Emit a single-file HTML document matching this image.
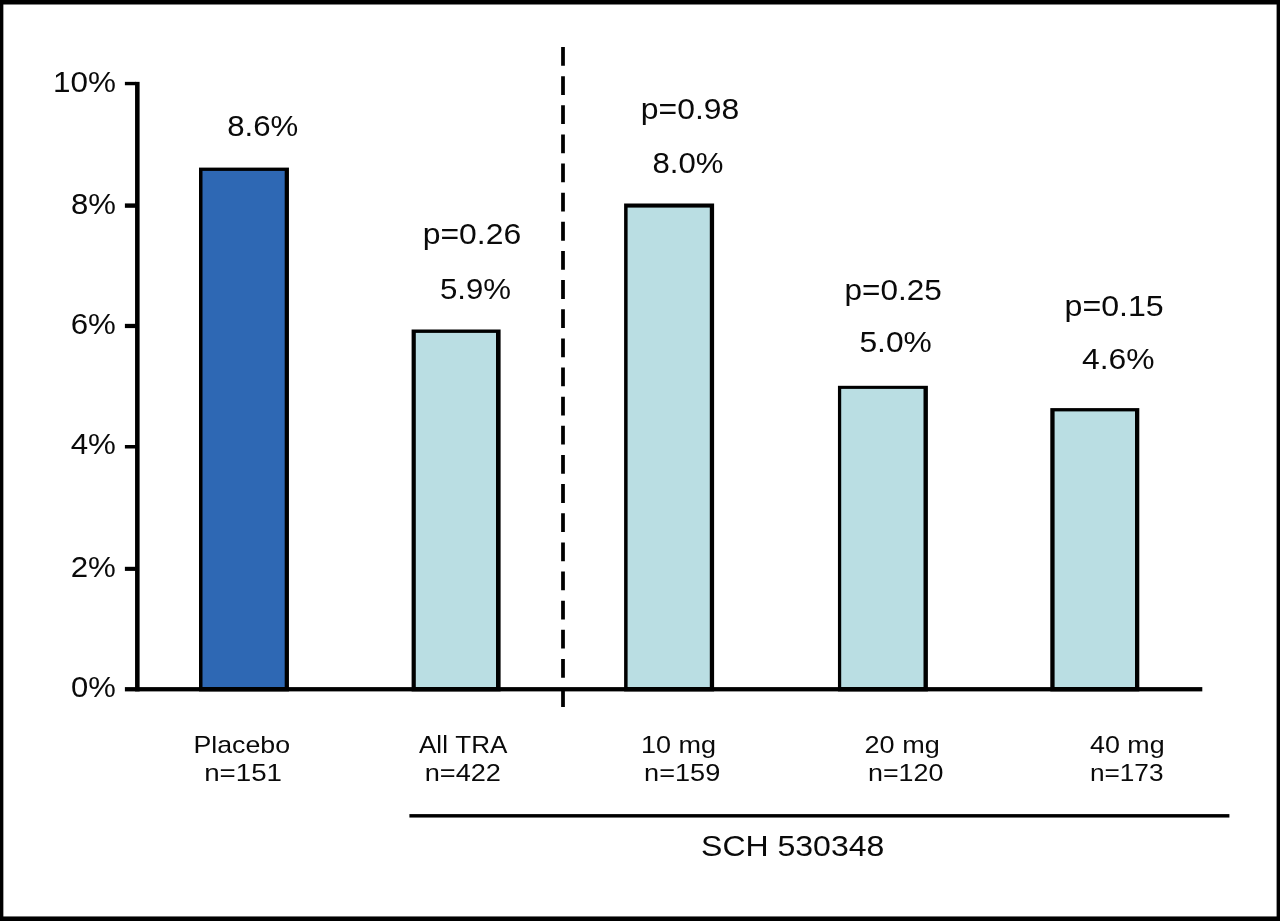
<!DOCTYPE html>
<html lang="en"><head><meta charset="utf-8"><title>Chart</title>
<style>
html,body{margin:0;padding:0;background:#fff;}
body{width:1280px;height:921px;overflow:hidden;}
svg{display:block;}
text{font-kerning:none;font-family:"Liberation Sans",Arial,Helvetica,sans-serif;fill:#0a0a0a;}
</style></head><body>
<svg width="1280" height="921" viewBox="0 0 1280 921">
<rect x="0" y="0" width="1280" height="921" fill="#fff"/>
<g id="bars">
<rect x="199.0" y="167.6" width="89.95" height="523.80" fill="#000"/><rect x="202.5" y="170.9" width="82.20" height="516.20" fill="#2e68b4"/>
<rect x="411.6" y="329.5" width="89.00" height="361.90" fill="#000"/><rect x="415.8" y="332.9" width="80.20" height="354.20" fill="#badee3"/>
<rect x="624.1" y="203.5" width="90.00" height="487.90" fill="#000"/><rect x="627.6" y="207.6" width="82.20" height="479.50" fill="#badee3"/>
<rect x="837.95" y="385.8" width="89.95" height="305.60" fill="#000"/><rect x="841.2" y="388.9" width="82.30" height="298.20" fill="#badee3"/>
<rect x="1050.3" y="408.1" width="89.00" height="283.30" fill="#000"/><rect x="1054.6" y="411.4" width="80.40" height="275.70" fill="#badee3"/>
</g>
<g id="axes" fill="#000">
<rect x="135.05" y="81.85" width="4.55" height="609.55"/>
<rect x="124.9" y="687.1" width="1077.4" height="4.30"/>
<rect x="124.9" y="81.85" width="11" height="3.40"/>
<rect x="124.9" y="203.4" width="11" height="4.40"/>
<rect x="124.9" y="323.85" width="11" height="4.25"/>
<rect x="124.9" y="445.0" width="11" height="3.50"/>
<rect x="124.9" y="566.8" width="11" height="4.10"/>
</g>
<line x1="563" y1="47" x2="563" y2="707" stroke="#000" stroke-width="3.75" stroke-dasharray="18.8 10.34"/>
<rect x="409.4" y="814.1" width="820" height="3.45" fill="#000"/>
<g id="labels">
<text transform="translate(52.97 92.0) scale(1.0554 1)" font-size="29.8">10%</text>
<text transform="translate(70.95 213.5) scale(1.0439 1)" font-size="29.8">8%</text>
<text transform="translate(70.71 333.8) scale(1.0495 1)" font-size="29.8">6%</text>
<text transform="translate(70.68 454.2) scale(1.0502 1)" font-size="29.8">4%</text>
<text transform="translate(70.73 576.8) scale(1.0491 1)" font-size="29.8">2%</text>
<text transform="translate(71.09 697.3) scale(1.0405 1)" font-size="29.8">0%</text>
<text transform="translate(227.15 136.0) scale(1.0463 1)" font-size="29.8">8.6%</text>
<text transform="translate(422.74 243.75) scale(1.0705 1)" font-size="29.8">p=0.26</text>
<text transform="translate(439.95 299.2) scale(1.0462 1)" font-size="29.8">5.9%</text>
<text transform="translate(640.84 119.1) scale(1.0703 1)" font-size="29.8">p=0.98</text>
<text transform="translate(652.45 173.2) scale(1.0448 1)" font-size="29.8">8.0%</text>
<text transform="translate(844.62 300.3) scale(1.0568 1)" font-size="29.8">p=0.25</text>
<text transform="translate(859.43 352.0) scale(1.0660 1)" font-size="29.8">5.0%</text>
<text transform="translate(1064.58 315.9) scale(1.0782 1)" font-size="29.8">p=0.15</text>
<text transform="translate(1081.97 369.3) scale(1.0676 1)" font-size="29.8">4.6%</text>
<text transform="translate(193.40 753.4) scale(1.1341 1)" font-size="23.6">Placebo</text>
<text transform="translate(204.16 781.3) scale(1.1743 1)" font-size="23.6">n=151</text>
<text transform="translate(418.95 753.4) scale(1.1065 1)" font-size="23.6">All TRA</text>
<text transform="translate(424.70 781.3) scale(1.1507 1)" font-size="23.6">n=422</text>
<text transform="translate(640.90 753.4) scale(1.1456 1)" font-size="23.6">10 mg</text>
<text transform="translate(644.10 781.3) scale(1.1494 1)" font-size="23.6">n=159</text>
<text transform="translate(864.54 753.4) scale(1.1466 1)" font-size="23.6">20 mg</text>
<text transform="translate(868.02 781.3) scale(1.1380 1)" font-size="23.6">n=120</text>
<text transform="translate(1089.98 753.4) scale(1.1381 1)" font-size="23.6">40 mg</text>
<text transform="translate(1089.91 781.3) scale(1.1110 1)" font-size="23.6">n=173</text>
<text transform="translate(701.05 855.8) scale(1.0745 1)" font-size="29.8">SCH 530348</text>
</g>
<g id="frame" fill="#000">
<rect x="0" y="0" width="1280" height="4.5"/>
<rect x="0" y="916.45" width="1280" height="4.55"/>
<rect x="0" y="0" width="3.35" height="921"/>
<rect x="1276.6" y="0" width="3.4" height="921"/>
</g>
</svg>
</body></html>
